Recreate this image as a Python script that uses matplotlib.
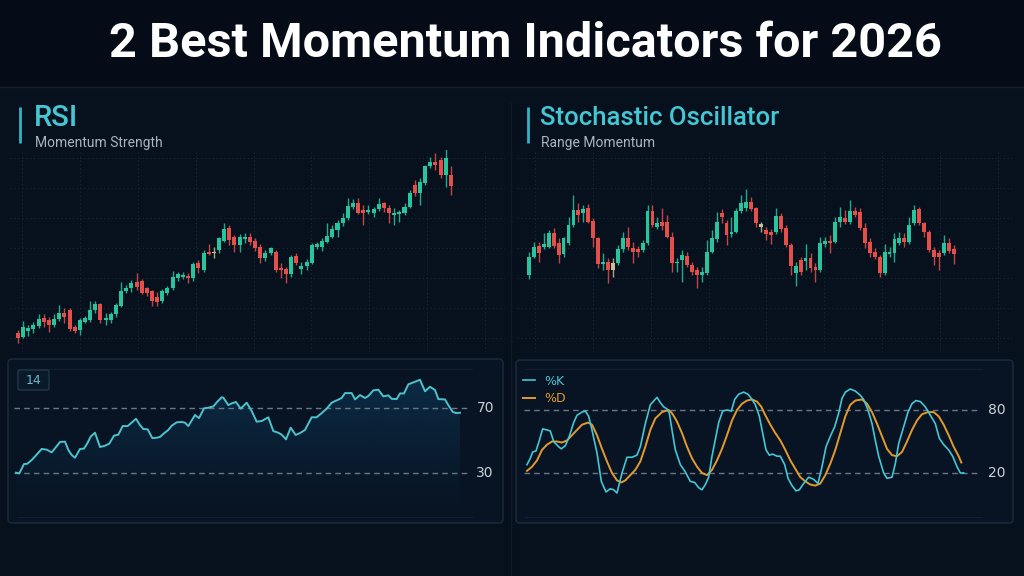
import numpy as np
import matplotlib
matplotlib.use("Agg")
import matplotlib.pyplot as plt
from matplotlib.patches import FancyBboxPatch, Rectangle

W, H = 1024, 576
BG = "#07111e"
GREEN = "#27c49e"
RED = "#e54f4a"
NEUTRAL = "#cbbf95"
CYAN = "#45c6d4"
ORANGE = "#e39a2c"
GRID = "#172434"

# RSI panel candles (price units)
rsi_open = [103.0, 102.0, 103.8, 104.2, 105.2, 107.5, 107.0, 105.5, 107.2, 109.2,
            110.0, 104.8, 104.0, 106.5, 107.0, 110.0, 111.8, 107.0, 107.0, 108.7,
            111.2, 115.7, 116.5, 118.5, 118.7, 116.5, 115.7, 113.8, 112.7, 115.2,
            116.5, 119.5, 119.8, 120.2, 119.5, 124.0, 122.0, 127.5, 127.5, 128.0,
            130.8, 134.5, 131.8, 129.5, 131.2, 132.0, 130.8, 129.0, 125.5, 127.0,
            127.5, 122.7, 122.2, 120.8, 126.3, 122.2, 123.2, 124.2, 129.0, 129.0,
            130.5, 132.0, 134.0, 136.0, 137.5, 141.0, 142.0, 140.0, 139.5, 139.0,
            140.3, 142.0, 140.7, 138.5, 138.8, 139.0, 140.8, 147.5, 145.0, 148.0,
            153.2, 154.5, 155.0, 150.5, 150.5]
rsi_close = [101.5, 105.0, 104.7, 105.5, 107.2, 106.3, 105.5, 107.2, 109.2, 108.0,
             104.2, 103.8, 107.0, 107.5, 110.0, 111.8, 107.0, 107.7, 108.7, 111.5,
             115.7, 116.7, 118.0, 117.0, 115.0, 115.0, 112.8, 112.5, 115.7, 116.5,
             120.0, 120.8, 120.5, 119.5, 123.8, 122.5, 127.2, 126.8, 127.0, 131.5,
             134.2, 131.0, 129.5, 132.0, 131.9, 130.5, 128.5, 125.5, 127.2, 128.5,
             122.0, 122.0, 120.8, 126.0, 124.2, 123.2, 124.5, 129.5, 129.8, 130.8,
             132.2, 134.2, 136.2, 137.7, 141.2, 142.0, 139.2, 139.2, 140.0, 140.3,
             141.8, 140.5, 139.0, 139.2, 139.3, 141.0, 145.0, 145.0, 148.5, 153.2,
             154.5, 153.5, 150.5, 155.5, 147.2]
rsi_high = [104.0, 106.7, 105.5, 106.5, 108.8, 108.8, 108.0, 108.8, 111.5, 110.5,
            110.5, 105.5, 107.7, 108.2, 112.8, 112.8, 112.2, 109.0, 109.5, 112.0,
            118.5, 117.5, 119.0, 121.0, 119.2, 117.0, 116.0, 115.5, 116.2, 117.2,
            121.7, 121.5, 121.5, 121.2, 124.5, 125.0, 128.0, 129.8, 129.0, 132.0,
            136.2, 135.5, 132.5, 132.8, 133.0, 133.0, 131.5, 129.8, 128.0, 129.0,
            128.0, 124.0, 123.0, 126.5, 127.0, 124.5, 125.2, 130.0, 130.5, 131.5,
            136.0, 135.5, 137.0, 139.0, 143.5, 143.2, 143.5, 141.5, 141.5, 141.0,
            143.5, 142.5, 141.5, 140.5, 140.0, 142.0, 146.0, 149.0, 149.5, 153.5,
            156.0, 157.0, 156.0, 159.0, 153.2]
rsi_low = [100.0, 101.5, 102.2, 103.0, 104.5, 105.0, 103.5, 104.8, 106.8, 106.0,
           103.8, 103.2, 102.5, 106.0, 106.5, 109.2, 106.2, 105.5, 106.2, 108.0,
           110.8, 115.0, 115.5, 116.0, 114.8, 114.2, 111.2, 111.2, 112.2, 114.5,
           116.0, 118.8, 119.2, 118.0, 118.8, 121.2, 121.5, 126.5, 125.5, 127.0,
           130.5, 129.5, 127.5, 127.5, 130.0, 129.5, 127.8, 124.0, 124.8, 126.5,
           121.5, 119.5, 118.0, 120.0, 123.5, 120.8, 122.0, 123.8, 128.2, 127.8,
           130.0, 131.5, 132.0, 135.2, 137.0, 140.2, 138.8, 135.5, 138.8, 137.8,
           139.8, 139.5, 136.2, 135.5, 136.5, 138.5, 140.5, 144.2, 141.5, 147.5,
           152.5, 152.0, 149.5, 147.0, 144.5]
rsi_neutral = [38]

# Stochastic panel candles (price units)
sto_open = [104.5, 110.0, 113.2, 112.8, 113.0, 117.0, 114.0, 110.8, 114.0, 119.5,
            124.0, 123.0, 124.5, 120.8, 115.5, 107.8, 108.5, 106.0, 108.2, 112.2,
            115.5, 112.5, 112.2, 112.0, 114.0, 123.8, 119.0, 120.5, 120.5, 116.0,
            108.0, 109.0, 110.2, 107.5, 106.0, 104.5, 105.0, 111.5, 115.2, 123.0,
            120.0, 116.8, 117.5, 123.8, 124.5, 126.5, 124.5, 118.8, 118.0, 117.5,
            117.5, 122.2, 118.5, 113.5, 105.2, 109.0, 108.8, 109.5, 107.0, 106.0,
            113.8, 114.8, 114.5, 120.5, 121.7, 120.5, 123.8, 123.5, 118.5, 114.5,
            111.5, 110.0, 105.0, 110.8, 111.0, 114.2, 115.5, 114.5, 120.0, 124.2,
            120.0, 117.5, 112.0, 111.2, 111.0, 114.2, 112.2]
sto_close = [110.0, 113.0, 111.2, 113.8, 117.0, 113.2, 110.5, 115.5, 119.5, 124.0,
             122.5, 124.2, 120.5, 115.5, 107.8, 108.5, 106.0, 108.2, 112.2, 115.5,
             113.0, 111.5, 111.5, 114.0, 123.8, 119.5, 120.2, 119.2, 116.0, 108.0,
             108.5, 110.5, 107.5, 105.5, 104.5, 105.5, 111.5, 115.5, 120.5, 122.0,
             116.5, 117.5, 123.8, 126.0, 126.5, 124.2, 120.0, 119.8, 116.8, 116.5,
             122.2, 118.2, 113.5, 107.3, 107.2, 105.5, 109.5, 106.5, 106.0, 114.2,
             114.8, 114.0, 120.5, 122.0, 120.5, 123.8, 122.5, 118.5, 114.0, 111.0,
             110.0, 105.0, 111.5, 111.5, 115.2, 115.5, 114.5, 119.5, 124.0, 120.0,
             117.5, 112.0, 110.0, 109.8, 114.2, 111.8, 110.8]
sto_high = [111.5, 114.5, 114.5, 117.0, 118.0, 118.5, 115.5, 116.0, 122.0, 128.5,
            126.0, 125.5, 125.8, 121.5, 116.0, 111.0, 109.5, 109.5, 113.5, 117.5,
            119.0, 114.5, 113.2, 115.0, 125.5, 125.5, 122.0, 124.5, 122.5, 117.5,
            109.5, 112.0, 111.5, 108.5, 107.0, 107.0, 115.0, 118.0, 123.5, 124.2,
            121.0, 122.0, 124.5, 128.5, 130.2, 128.0, 125.0, 120.5, 119.0, 118.2,
            124.5, 123.0, 119.5, 114.2, 108.5, 110.0, 113.8, 111.0, 108.0, 116.0,
            116.0, 116.5, 122.0, 124.8, 124.0, 127.0, 125.0, 124.5, 120.0, 115.5,
            112.5, 110.5, 113.8, 113.0, 117.2, 117.5, 117.0, 122.0, 125.5, 125.0,
            120.5, 118.0, 112.8, 112.0, 116.5, 115.5, 113.5]
sto_low = [103.2, 109.5, 108.5, 112.2, 112.5, 112.5, 108.2, 110.0, 113.5, 118.8,
           120.5, 120.5, 120.2, 113.0, 106.5, 106.0, 102.2, 104.0, 107.5, 111.5,
           112.0, 108.0, 109.8, 111.5, 113.5, 119.0, 118.2, 118.0, 115.5, 105.5,
           105.5, 102.5, 107.0, 104.5, 100.5, 102.5, 104.5, 111.0, 114.5, 120.0,
           113.5, 116.0, 117.0, 123.2, 123.8, 123.8, 118.8, 117.5, 115.0, 113.8,
           116.8, 117.5, 113.0, 104.5, 101.2, 104.5, 106.0, 105.5, 102.5, 105.5,
           113.0, 111.0, 114.0, 119.0, 119.8, 119.8, 122.0, 118.0, 112.5, 110.0,
           109.2, 104.0, 104.5, 110.0, 108.5, 113.5, 113.0, 113.8, 119.5, 119.5,
           116.0, 111.5, 107.5, 106.0, 110.5, 111.0, 107.8]
sto_neutral = [17, 47]

# RSI(14) line
rsi_t = [48, 58, 72, 82, 95, 110, 125, 140, 155, 165, 180, 195, 205, 215, 225,
         240, 252, 262, 272, 285, 300, 315, 328, 342, 355, 368, 383, 395, 408, 420,
         430, 443, 457, 470, 480, 493, 505, 515, 530, 545, 555, 565, 585, 597, 612,
         625, 640, 652, 665, 670, 685, 695, 708, 722, 740, 755, 770, 785, 805, 820,
         835, 845, 858, 872, 887, 900, 915, 935, 950, 965, 980, 995, 1010, 1025, 1035,
         1055, 1065, 1080, 1095, 1105, 1120, 1135, 1150, 1165, 1175, 1190, 1200, 1212,
         1225, 1240, 1260, 1275, 1290, 1305, 1315, 1335, 1345, 1358, 1368, 1380]
rsi_val = [30.2, 29.8, 35.5, 35.7, 38.0, 41.3, 44.8, 44.4, 42.7, 45.2,
           49.1, 49.3, 44.2, 41.1, 39.4, 44.8, 45.0, 48.3, 52.4, 54.8,
           46.0, 46.8, 48.1, 53.0, 53.6, 58.9, 58.9, 61.0, 63.4, 59.5,
           57.1, 56.9, 51.5, 51.7, 52.2, 54.6, 56.5, 59.1, 61.2, 61.4,
           61.0, 58.9, 65.7, 63.8, 69.8, 70.2, 71.0, 73.9, 76.6, 76.4,
           71.8, 72.9, 73.7, 69.6, 73.3, 68.2, 61.6, 62.0, 64.3, 55.8,
           54.8, 53.6, 50.7, 57.9, 53.4, 54.6, 56.5, 64.3, 64.3, 66.9,
           69.6, 73.3, 74.7, 76.2, 79.2, 79.2, 75.3, 78.0, 76.2, 77.4,
           80.9, 81.3, 77.2, 77.8, 75.7, 75.5, 79.0, 79.0, 84.6, 85.8,
           87.4, 80.3, 83.1, 81.1, 75.5, 75.3, 71.8, 67.7, 66.9, 67.1]
rsi_levels = [70, 30]

# Stochastic %K / %D
k_t = [45, 55, 62, 72, 82, 92, 105, 115, 125, 140, 148, 160, 172, 185, 195,
       210, 220, 230, 240, 255, 268, 282, 295, 305, 315, 330, 345, 360, 375, 385,
       400, 415, 435, 445, 455, 465, 472, 480, 490, 505, 520, 535, 548, 560, 570,
       580, 590, 600, 612, 620, 632, 645, 658, 668, 680, 695, 708, 718, 730, 742,
       752, 762, 772, 782, 795, 805, 818, 828, 840, 852, 862, 875, 890, 905, 918,
       930, 942, 955, 968, 980, 990, 1000, 1015, 1030, 1045, 1055, 1068, 1080, 1090,
       1100, 1115, 1125, 1140, 1150, 1160, 1175, 1188, 1200, 1212, 1225, 1240, 1255,
       1270, 1282, 1295, 1310, 1322, 1335, 1345, 1355]
k_val = [28, 34, 40, 41, 51, 62, 61, 60, 50, 45, 43, 46, 55, 68, 75,
         78, 79, 74, 61, 39, 12, 2, 5, 4, 1, 20, 35, 35, 37, 45,
         67, 85, 92, 87, 83, 81, 77, 61, 42, 28, 21, 12, 11, 6, 4,
         9, 16, 36, 55, 68, 79, 80, 79, 90, 95, 97, 95, 91, 85, 74,
         58, 42, 37, 38, 36, 36, 28, 15, 8, 3, 4, 10, 16, 14, 10,
         26, 45, 55, 64, 77, 91, 97, 100, 98, 94, 90, 80, 67, 51, 36,
         20, 15, 16, 29, 48, 64, 78, 86, 89, 88, 83, 75, 67, 53, 47,
         42, 36, 26, 20, 20]
d_t = [45, 60, 75, 90, 105, 120, 135, 150, 165, 180, 195, 210, 228, 240, 255,
       270, 285, 300, 315, 328, 340, 355, 370, 385, 400, 415, 430, 450, 470, 480,
       495, 510, 525, 540, 555, 570, 585, 600, 615, 630, 645, 660, 675, 690, 705,
       720, 735, 748, 760, 775, 790, 805, 820, 835, 850, 865, 880, 895, 910, 925,
       940, 955, 970, 985, 1000, 1015, 1030, 1050, 1065, 1080, 1095, 1110, 1125, 1140,
       1155, 1170, 1185, 1200, 1215, 1230, 1248, 1265, 1280, 1295, 1310, 1325, 1340, 1348]
d_val = [22, 26, 32, 42, 47, 50, 50, 49, 51, 56, 61, 66, 68, 66, 56,
         43, 31, 20, 13, 11, 13, 18, 23, 31, 45, 61, 72, 78, 80, 77,
         69, 58, 45, 34, 26, 20, 18, 23, 32, 43, 56, 70, 80, 86, 89,
         90, 88, 83, 75, 66, 58, 51, 42, 32, 24, 16, 12, 9, 8, 10,
         18, 29, 42, 58, 74, 85, 89, 90, 86, 78, 67, 55, 43, 37, 36,
         40, 50, 61, 70, 76, 78, 78, 74, 66, 56, 45, 36, 30]
sto_levels = [80, 20]


def px_axes(fig, x0, y0, x1, y1):
    """Axes placed by pixel box (top-left origin)."""
    ax = fig.add_axes([x0 / W, 1 - y1 / H, (x1 - x0) / W, (y1 - y0) / H])
    ax.set_axis_off()
    return ax


def draw_grid(ax, x_start):
    for k in range(9):
        fx = x_start + 0.117 * k
        ax.plot([fx, fx], [0.0, 1.0], transform=ax.transAxes, color=GRID,
                lw=0.7, ls=(0, (1.5, 2.5)), zorder=0)
    for k in range(7):
        fy = 1 - (0.04 + 0.1485 * k)
        ax.plot([0.0, 1.0], [fy, fy], transform=ax.transAxes, color=GRID,
                lw=0.7, ls=(0, (1.5, 2.5)), zorder=0)


def draw_candles(ax, o, c, h, l, neutral):
    o, c, h, l = map(np.asarray, (o, c, h, l))
    idx = np.arange(len(o))
    colors = np.where(c >= o, GREEN, RED).astype(object)
    for i in neutral:
        colors[i] = NEUTRAL
    ax.vlines(idx, l, h, colors=list(colors), lw=1.0, alpha=0.85, zorder=2)
    ax.bar(idx, np.maximum(np.abs(c - o), 0.45), bottom=np.minimum(o, c),
           width=0.78, color=list(colors), lw=0, zorder=3)


fig = plt.figure(figsize=(W / 100, H / 100), dpi=100, facecolor=BG)

# background / decoration layer in pixel coordinates
bg = fig.add_axes([0, 0, 1, 1])
bg.set_xlim(0, W)
bg.set_ylim(H, 0)
bg.set_axis_off()
bg.add_patch(Rectangle((0, 0), W, 87, color="#050c17", zorder=0))
bg.plot([0, W], [87, 87], color="#14222f", lw=1)
bg.plot([511, 511], [103, H], color="#0f1b28", lw=1)

bg.text(525, 44, "2 Best Momentum Indicators for 2026", color="white",
        fontsize=35, fontweight="bold", family="Roboto",
        ha="center", va="center")

for x_bar, x_txt, head, sub, size in [(20, 35, "RSI", "Momentum Strength", 21),
                                      (528, 541, "Stochastic Oscillator", "Range Momentum", 18.5)]:
    bg.plot([x_bar, x_bar], [107, 143], color="#2bb5c5", lw=2, solid_capstyle="butt")
    bg.text(x_txt - 1, 118, head, color=CYAN, fontsize=size, family="Roboto",
            fontweight="medium", ha="left", va="center")
    bg.text(x_txt, 143, sub, color="#aab4bf", fontsize=10, family="Roboto",
            ha="left", va="center")

for (x0, y0, x1, y1) in [(8, 359, 503, 523), (516, 360, 1013, 523)]:
    bg.add_patch(FancyBboxPatch((x0, y0), x1 - x0, y1 - y0,
                                boxstyle="round,pad=0,rounding_size=4",
                                fc="#081423", ec="#1d2b3b", lw=1, zorder=1))
    bg.plot([x0 + 9, x1 - 31], [369, 369], color="#132030", lw=0.8, zorder=2)
    bg.plot([x0 + 9, x1 - 31], [517, 517], color="#132030", lw=0.8, zorder=2)

bg.add_patch(FancyBboxPatch((18, 370), 31, 20, boxstyle="round,pad=0,rounding_size=2",
                            fc="#0a1a2b", ec="#22364a", lw=1, zorder=3))
bg.text(33.5, 380.5, "14", color="#6bb8c8", fontsize=9, ha="center", va="center", zorder=4)

# upper candle panels
ax_rc = px_axes(fig, 10, 150, 505, 352)
ax_rc.set_xlim(-1.55, 94.5)
ax_rc.set_ylim(97.4, 158.0)
draw_grid(ax_rc, 0.024)
draw_candles(ax_rc, rsi_open, rsi_close, rsi_high, rsi_low, rsi_neutral)

ax_sc = px_axes(fig, 517, 150, 1012, 352)
ax_sc.set_xlim(-2.43, 97.8)
ax_sc.set_ylim(81.4, 142.0)
draw_grid(ax_sc, 0.036)
draw_candles(ax_sc, sto_open, sto_close, sto_high, sto_low, sto_neutral)

# RSI line panel
ax_r = px_axes(fig, 8, 359, 503, 523)
fill = ax_r.fill_between(rsi_t, rsi_val, 4, color="none", lw=0)
grad = np.zeros((256, 1, 4))
grad[:, 0, 0:3] = (0.05, 0.2, 0.32)
grad[:, 0, 3] = np.linspace(0.0, 0.8, 256) ** 1.2
img = ax_r.imshow(grad, extent=[rsi_t[0], rsi_t[-1], 4, 88], origin="lower",
                  aspect="auto", zorder=1, interpolation="bilinear")
img.set_clip_path(fill.get_paths()[0], transform=ax_r.transData)
ax_r.set_xlim(24, 1509)
ax_r.set_ylim(-0.8, 100.2)
for lv in rsi_levels:
    ax_r.hlines(lv, 42, 1410, colors="#6b7785", lw=1, linestyles=(0, (4, 3)), zorder=2)
    ax_r.text(0.964, lv, str(lv), transform=ax_r.get_yaxis_transform(),
              color="#c9d0d8", fontsize=10, ha="center", va="center")
ax_r.plot(rsi_t, rsi_val, color="#4cc3cb", lw=1.4, zorder=3)

# Stochastic line panel
ax_s = px_axes(fig, 516, 360, 1013, 523)
ax_s.set_xlim(12, 1503)
ax_s.set_ylim(-27.6, 127.6)
for lv in sto_levels:
    ax_s.hlines(lv, 36, 1404, colors="#6b7785", lw=1, linestyles=(0, (4, 3)), zorder=2)
    ax_s.text(0.967, lv, str(lv), transform=ax_s.get_yaxis_transform(),
              color="#c9d0d8", fontsize=10, ha="center", va="center")
ax_s.plot(d_t, d_val, color=ORANGE, lw=1.4, zorder=3, label="%D")
ax_s.plot(k_t, k_val, color=CYAN, lw=1.2, zorder=4, label="%K")
handles, labels = ax_s.get_legend_handles_labels()
ax_s.legend(handles[::-1], labels[::-1], loc="upper left", bbox_to_anchor=(0.005, 0.94),
            frameon=False, fontsize=9, labelcolor="linecolor", handlelength=0.9,
            handletextpad=0.8, labelspacing=0.35, borderaxespad=0)

fig.savefig("out.png", dpi=100, facecolor=BG)
